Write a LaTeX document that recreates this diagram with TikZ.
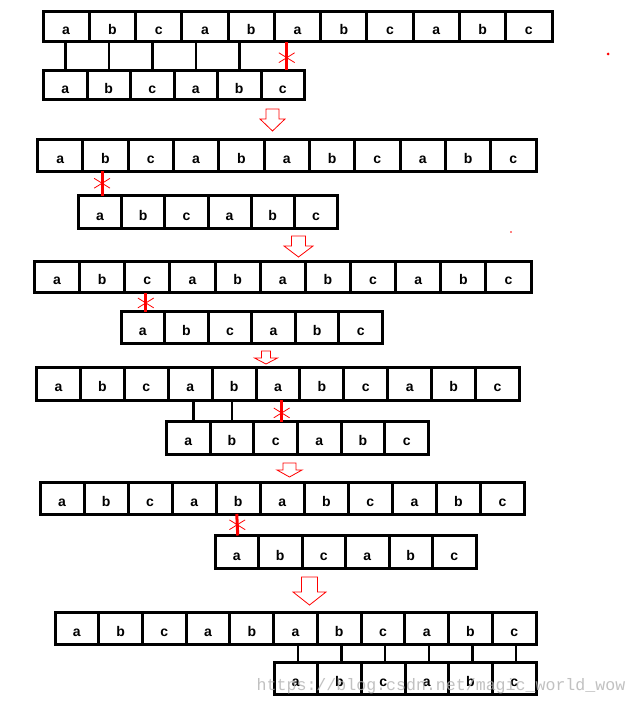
\documentclass[tikz,border=0pt]{standalone}
\usepackage{fontspec}
\setmainfont{Liberation Sans}
\newfontfamily\markfont{Liberation Mono}
\usetikzlibrary{calc}
\usetikzlibrary{shapes.misc}

% name, left, right, top, bottom, cells, letters
\newcommand{\cellrow}[7]{%
  \pgfmathsetmacro{\cellw}{(#3-#2)/#6}
  \pgfmathsetmacro{\cellh}{#5-#4}
  \foreach \t [count=\i] in {#7}{
    \node[cellbox, minimum width=\cellw pt, minimum height=\cellh pt]
      (#1-\i) at ({#2+(\i-0.5)*\cellw}, {(#4+#5)/2}) {\t};
  }
}
% centre x, top, shaft half, head half, neck, tip
\newcommand{\downstep}[6]{%
  \draw[hollow] (#1-#3,#2) -- (#1+#3,#2) -- (#1+#3,#5) -- (#1+#4,#5)
    -- (#1,#6) -- (#1-#4,#5) -- (#1-#3,#5) -- cycle;
}

\begin{document}
\begin{tikzpicture}[x=1pt, y=-1pt,
  cellbox/.style={draw, line width=3pt, inner sep=0pt, outer sep=0pt,
    text height=16pt, text depth=0pt, font=\fontsize{14}{14}\selectfont\bfseries},
  link/.style={line width=2.5pt},
  miss/.style={red, line width=3pt},
  crossmark/.style={cross out, draw=red, line width=0.8pt,
    minimum width=15pt, minimum height=9pt, inner sep=0pt},
  hollow/.style={draw=red, line width=0.8pt, fill=white},
  watermark/.style={font=\markfont\fontsize{16.6}{16.6}\selectfont,
    text=black!30, opacity=0.8, anchor=base west, inner sep=0pt}]
\fill[white] (0,0) rectangle (637,706);

\cellrow{m1}{43}{552}{11.5}{42}{11}{a,b,c,a,b,a,b,c,a,b,c}
\cellrow{p1}{43.5}{304.5}{70.5}{100}{6}{a,b,c,a,b,c}
\foreach \k in {1,...,5}
  \draw[link] (p1-\k.north) -- (p1-\k.north |- m1-1.south);
\draw[miss] ([xshift=4pt]p1-6.north) -- ([xshift=4pt]p1-6.north |- m1-1.south)
  node[crossmark, pos=.45] (x1) {};
\downstep{272.5}{109}{6.5}{12.5}{119}{131}

\cellrow{m2}{37.5}{536}{139}{171}{11}{a,b,c,a,b,a,b,c,a,b,c}
\cellrow{p2}{78.5}{337.5}{195.5}{228.5}{6}{a,b,c,a,b,c}
\draw[miss] ([xshift=2pt]p2-1.north) -- ([xshift=2pt]p2-1.north |- m2-1.south)
  node[crossmark, pos=.5] (x2) {};
\downstep{298.5}{236}{7}{14.5}{246}{257}

\cellrow{m3}{34.5}{531}{261}{292.5}{11}{a,b,c,a,b,a,b,c,a,b,c}
\cellrow{p3}{121}{382.5}{311.5}{343.5}{6}{a,b,c,a,b,c}
\draw[miss] ([xshift=3pt]p3-1.north) -- ([xshift=3pt]p3-1.north |- m3-1.south)
  node[crossmark, pos=.45] (x3) {};
\downstep{266}{351}{4.5}{11.5}{358}{364}

\cellrow{m4}{36.5}{519.5}{367.5}{400}{11}{a,b,c,a,b,a,b,c,a,b,c}
\cellrow{p4}{166.5}{428.5}{421.5}{454}{6}{a,b,c,a,b,c}
\draw[link] ([xshift=5pt]p4-1.north) -- ([xshift=5pt]p4-1.north |- m4-1.south);
\draw[link] (p4-2.north) -- (p4-2.north |- m4-1.south);
\draw[miss] ([xshift=6pt]p4-3.north) -- ([xshift=6pt]p4-3.north |- m4-1.south)
  node[crossmark, pos=.4] (x4) {};
\downstep{289.5}{463}{6.5}{12.5}{470}{477}

\cellrow{m5}{40}{524.5}{482}{514}{11}{a,b,c,a,b,a,b,c,a,b,c}
\cellrow{p5}{215}{476}{535.5}{568.5}{6}{a,b,c,a,b,c}
\draw[miss] ([xshift=1pt]p5-1.north) -- ([xshift=0pt]p5-1.north |- m5-1.south)
  node[crossmark, pos=.5] (x5) {};
\downstep{309.5}{577}{8}{16.5}{592}{605}

\cellrow{m6}{55}{536}{612}{644.5}{11}{a,b,c,a,b,a,b,c,a,b,c}
\cellrow{p6}{274}{536}{662.5}{694.5}{6}{a,b,c,a,b,c}
\foreach \k in {1,...,6}
  \draw[link] ([xshift=2pt]p6-\k.north) -- ([xshift=2pt]p6-\k.north |- m6-1.south);

\fill[red] (608,54) circle (1.5);
\fill[red] (511,232) circle (0.8);

\node[watermark] (mark) at (256.5,690) {https://blog.csdn.net/magic\_world\_wow};
\end{tikzpicture}
\end{document}
